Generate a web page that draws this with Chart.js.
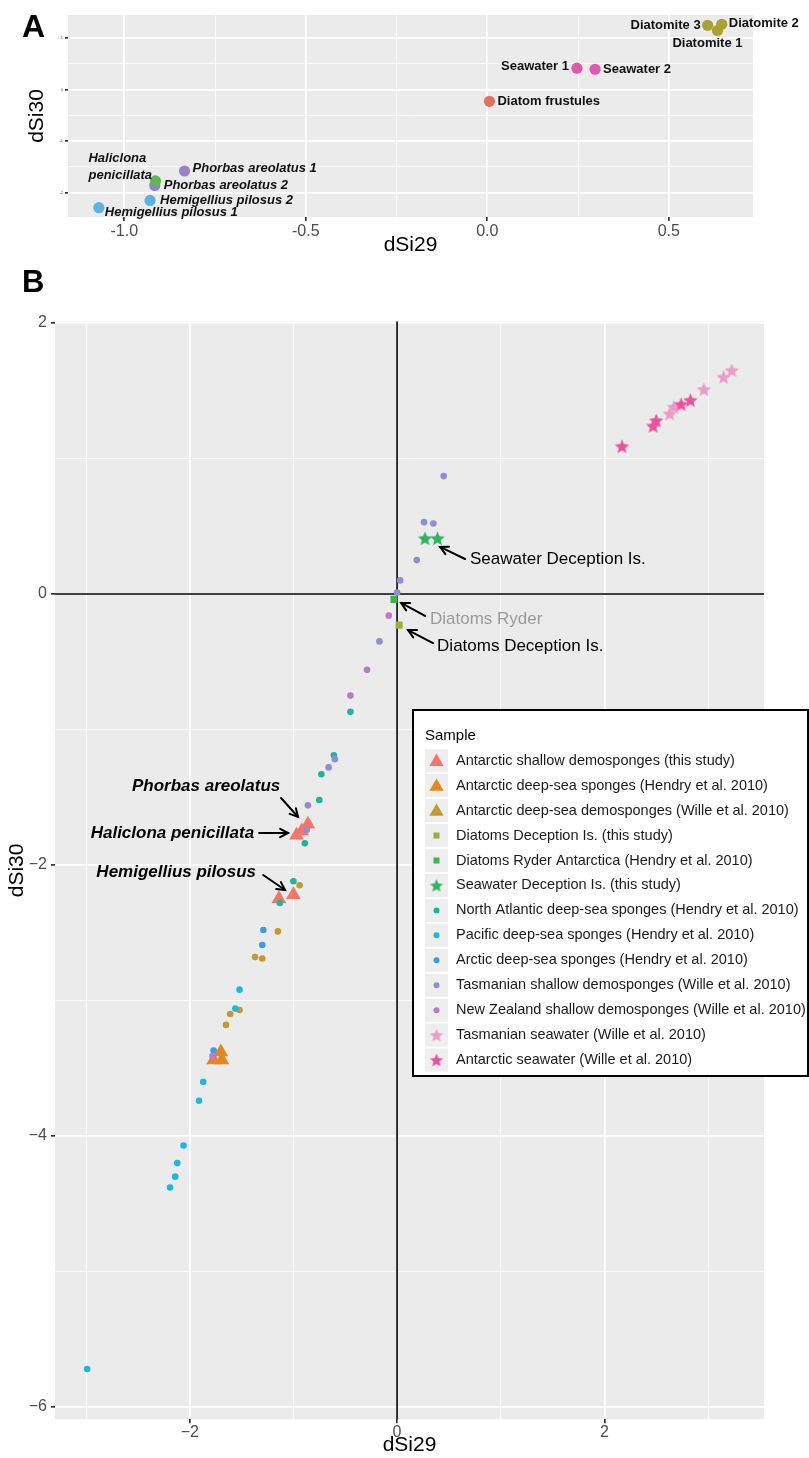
<!DOCTYPE html>
<html><head><meta charset="utf-8">
<script src="https://cdn.jsdelivr.net/npm/chart.js@4.4.1/dist/chart.umd.min.js"></script>
<style>
html,body{margin:0;padding:0;background:#fff;}
body{width:809px;height:1458px;position:relative;overflow:hidden;}
#ca{position:absolute;left:0;top:0;}
#cb{position:absolute;left:0;top:258px;}
</style></head><body>
<canvas id="ca" width="809" height="258"></canvas>
<canvas id="cb" width="809" height="1200"></canvas>
<script>
// ---------------- Panel A data ----------------
const aLabels = ["Diatom frustules","Diatomite 1","Diatomite 2","Diatomite 3","Seawater 1","Seawater 2","Haliclona\npenicillata","Phorbas areolatus 1","Phorbas areolatus 2","Hemigellius pilosus 1","Hemigellius pilosus 2"];
const aGroup = ["Diatom frustules","Diatomite","Diatomite","Diatomite","Seawater","Seawater","Haliclona","Phorbas","Phorbas","Hemigellius","Hemigellius"];
const aSi29 = [0.006, 0.634, 0.646, 0.607, 0.247, 0.297, -0.914, -0.834, -0.916, -1.070, -0.929];
const aSi30 = [-0.23, 1.14, 1.26, 1.24, 0.41, 0.39, -1.77, -1.58, -1.86, -2.29, -2.15];
const aGroupOrder = ["Diatom frustules","Diatomite","Seawater","Phorbas","Haliclona","Hemigellius"];

// ---------------- Panel B data ----------------
const bNames = [
  "Antarctic shallow demosponges (this study)",
  "Antarctic deep-sea sponges (Hendry et al. 2010)",
  "Antarctic deep-sea demosponges (Wille et al. 2010)",
  "Diatoms Deception Is. (this study)",
  "Diatoms Ryder Antarctica (Hendry et al. 2010)",
  "Seawater Deception Is. (this study)",
  "North Atlantic deep-sea sponges (Hendry et al. 2010)",
  "Pacific deep-sea sponges (Hendry et al. 2010)",
  "Arctic deep-sea sponges (Hendry et al. 2010)",
  "Tasmanian shallow demosponges (Wille et al. 2010)",
  "New Zealand shallow demosponges (Wille et al. 2010)",
  "Tasmanian seawater (Wille et al. 2010)",
  "Antarctic seawater (Wille et al. 2010)"
];
const antShallowSi29 = [-0.86, -0.92, -0.97, -1.00, -1.14];
const antShallowSi30 = [-1.70, -1.75, -1.78, -2.22, -2.25];
const antDeepHendrySi29 = [-1.70, -1.77, -1.69];
const antDeepHendrySi30 = [-3.38, -3.44, -3.44];
const antDeepWilleSi29 = [-0.94, -1.15, -1.37, -1.30, -1.52, -1.61, -1.65];
const antDeepWilleSi30 = [-2.15, -2.49, -2.68, -2.69, -3.07, -3.10, -3.18];
const diatDeceptionSi29 = [0.02];
const diatDeceptionSi30 = [-0.23];
const diatRyderSi29 = [-0.03];
const diatRyderSi30 = [-0.04];
const swDeceptionSi29 = [0.27, 0.39];
const swDeceptionSi30 = [0.41, 0.41];
const nAtlanticSi29 = [-0.45, -0.61, -0.73, -0.75, -0.89, -1.00, -1.13];
const nAtlanticSi30 = [-0.87, -1.19, -1.33, -1.52, -1.84, -2.12, -2.28];
const pacificSi29 = [-1.52, -1.56, -1.87, -1.91, -2.06, -2.12, -2.14, -2.19, -2.99];
const pacificSi30 = [-2.92, -3.06, -3.60, -3.74, -4.07, -4.20, -4.30, -4.38, -5.72];
const arcticSi29 = [-1.29, -1.30, -1.77];
const arcticSi30 = [-2.48, -2.59, -3.37];
const tasShallowSi29 = [0.45, 0.26, 0.35, 0.19, 0.03, 0.00, -0.17, -0.60, -0.66, -0.86, -0.87];
const tasShallowSi30 = [0.87, 0.53, 0.52, 0.25, 0.10, 0.01, -0.35, -1.22, -1.28, -1.56, -1.74];
const nzShallowSi29 = [-0.08, -0.29, -0.45, -1.78];
const nzShallowSi30 = [-0.16, -0.56, -0.75, -3.41];
const tasSeawaterSi29 = [2.63, 2.67, 2.96, 3.15, 3.23];
const tasSeawaterSi30 = [1.33, 1.38, 1.51, 1.60, 1.65];
const antSeawaterSi29 = [2.17, 2.47, 2.50, 2.74, 2.83];
const antSeawaterSi30 = [1.09, 1.24, 1.28, 1.40, 1.43];
const bX = [antShallowSi29, antDeepHendrySi29, antDeepWilleSi29, diatDeceptionSi29, diatRyderSi29, swDeceptionSi29, nAtlanticSi29, pacificSi29, arcticSi29, tasShallowSi29, nzShallowSi29, tasSeawaterSi29, antSeawaterSi29];
const bY = [antShallowSi30, antDeepHendrySi30, antDeepWilleSi30, diatDeceptionSi30, diatRyderSi30, swDeceptionSi30, nAtlanticSi30, pacificSi30, arcticSi30, tasShallowSi30, nzShallowSi30, tasSeawaterSi30, antSeawaterSi30];

// ---------------- styles ----------------
const FONT = '"Liberation Sans", Arial, Helvetica, sans-serif';
Chart.defaults.font.family = FONT;
Chart.defaults.animation = false;

const aColor = {"Diatom frustules":"#E8705F","Diatomite":"#A9A232","Seawater":"#DE5AAE","Phorbas":"#9B80C6","Haliclona":"#5EB852","Hemigellius":"#5AB4E2"};
const aLabelDx = [8, -10, 7, -7, -8, 8, -67, 8, 9, 6, 10];
const aLabelDy = [0, 13, -1, 0, -2, 0, -22, -3, 0, 5, 0];
const aLabelAlign = ['left','center','left','right','right','left','left','left','left','left','left'];
const aLabelItalic = [false,false,false,false,false,false,true,true,true,true,true];

function makeStar(color, size) {
  const c = document.createElement('canvas');
  c.width = size; c.height = size;
  const g = c.getContext('2d');
  const cx = size / 2, cy = size / 2 + 0.6, R = size / 2, r = R * 0.45;
  g.beginPath();
  for (let i = 0; i < 10; i++) {
    const ang = -Math.PI / 2 + i * Math.PI / 5;
    const rad = i % 2 ? r : R;
    g.lineTo(cx + rad * Math.cos(ang), cy + rad * Math.sin(ang));
  }
  g.closePath(); g.fillStyle = color; g.fill();
  return c;
}
const bColor = ["#F3766B","#E5871F","#C39A2E","#93B23A","#3DB54A","#2DB462","#1EB59B","#1DB8DF","#3E9CE0","#8B8FD5","#B97BC8","#EE9BC9","#EF509E"];
const bShape = ['triangle','triangle','circle','rect','rect','star','circle','circle','circle','circle','circle','star','star'];
const bLegendShape = ['triangle','triangle','triangle','rect','rect','star','circle','circle','circle','circle','circle','star','star'];
const bRadius = {triangle: 8.5, circle: 3.3, rect: 5};

const bAnnotations = [
  {text:'Seawater Deception Is.', italic:false, color:'#000', tx:0.704, ty:0.258, align:'left', from:[0.656,0.258], to:[0.415,0.347]},
  {text:'Diatoms Ryder', italic:false, color:'#9A9A9A', tx:0.318, ty:-0.185, align:'left', from:[0.270,-0.162], to:[0.039,-0.066]},
  {text:'Diatoms Deception Is.', italic:false, color:'#000', tx:0.386, ty:-0.384, align:'left', from:[0.347,-0.362], to:[0.106,-0.266]},
  {text:'Phorbas areolatus', italic:true, color:'#000', tx:-1.842, ty:-1.417, align:'center', from:[-1.119,-1.506], to:[-0.955,-1.646]},
  {text:'Haliclona penicillata', italic:true, color:'#000', tx:-1.379, ty:-1.764, align:'right', from:[-1.331,-1.764], to:[-1.051,-1.764]},
  {text:'Hemigellius pilosus', italic:true, color:'#000', tx:-2.131, ty:-2.052, align:'center', from:[-1.292,-2.074], to:[-1.080,-2.185]}
];

function near(v, step) { return Math.abs(v / step - Math.round(v / step)) < 1e-6; }

const panelBg = {
  id: 'panelBg',
  beforeDraw(chart) {
    const {ctx, chartArea: a} = chart;
    ctx.save(); ctx.fillStyle = '#EBEBEB';
    ctx.fillRect(a.left, a.top, a.right - a.left, a.bottom - a.top);
    ctx.restore();
  }
};

function drawArrow(ctx, x1, y1, x2, y2) {
  ctx.beginPath(); ctx.moveTo(x1, y1); ctx.lineTo(x2, y2); ctx.stroke();
  const a = Math.atan2(y2 - y1, x2 - x1), L = 9, w = Math.PI / 6.5;
  ctx.beginPath();
  ctx.moveTo(x2 - L * Math.cos(a - w), y2 - L * Math.sin(a - w));
  ctx.lineTo(x2, y2);
  ctx.lineTo(x2 - L * Math.cos(a + w), y2 - L * Math.sin(a + w));
  ctx.stroke();
}

function drawShape(ctx, shape, color, x, y, s) {
  ctx.fillStyle = color;
  ctx.beginPath();
  if (shape === 'triangle') {
    ctx.moveTo(x, y - s * 0.55); ctx.lineTo(x + s * 0.55, y + s * 0.4); ctx.lineTo(x - s * 0.55, y + s * 0.4); ctx.closePath(); ctx.fill();
  } else if (shape === 'rect') {
    ctx.fillRect(x - s / 2, y - s / 2, s, s);
  } else if (shape === 'circle') {
    ctx.arc(x, y, s / 2, 0, Math.PI * 2); ctx.fill();
  } else if (shape === 'star') {
    const img = makeStar(color, s);
    ctx.drawImage(img, x - s / 2, y - s / 2);
  }
}

// ---------------- Chart A ----------------
const aDatasets = aGroupOrder.map((g, i) => ({
  label: g,
  data: aSi29.map((x, k) => ({x: x, y: aSi30[k], k: k})).filter(p => aGroup[p.k] === g),
  backgroundColor: aColor[g],
  borderWidth: 0,
  pointRadius: 5.6,
  pointHoverRadius: 5.6,
  order: -i
}));

const aLabelPlugin = {
  id: 'aLabels',
  afterDatasetsDraw(chart) {
    const ctx = chart.ctx, xs = chart.scales.x, ys = chart.scales.y;
    ctx.save();
    ctx.fillStyle = '#111';
    ctx.textBaseline = 'middle';
    for (let k = 0; k < aLabels.length; k++) {
      const px = xs.getPixelForValue(aSi29[k]), py = ys.getPixelForValue(aSi30[k]);
      ctx.font = (aLabelItalic[k] ? 'italic ' : '') + 'bold 13px ' + FONT;
      ctx.textAlign = aLabelAlign[k];
      const lines = aLabels[k].split('\n');
      lines.forEach((t, j) => ctx.fillText(t, px + aLabelDx[k], py + aLabelDy[k] + j * 17));
    }
    ctx.font = 'bold 32px ' + FONT;
    ctx.textAlign = 'left'; ctx.textBaseline = 'alphabetic'; ctx.fillStyle = '#000';
    ctx.fillText('A', 22, 37);
    ctx.restore();
  }
};

new Chart(document.getElementById('ca'), {
  type: 'scatter',
  data: {datasets: aDatasets},
  options: {
    responsive: false, devicePixelRatio: 1,
    layout: {padding: {left: 0, right: 56, top: 15, bottom: 0}},
    plugins: {legend: {display: false}, tooltip: {enabled: false}},
    scales: {
      x: {
        type: 'linear', min: -1.155, max: 0.732,
        afterFit: s => { s.height = 41; },
        ticks: {stepSize: 0.25, includeBounds: false, autoSkip: false, maxRotation: 0, padding: 1, color: '#4D4D4D', font: {size: 16},
          callback: v => near(v, 0.5) ? v.toFixed(1) : ''},
        grid: {color: '#FFFFFF', lineWidth: c => (c.tick && near(c.tick.value, 0.5)) ? 1.7 : 0.8, tickLength: 4,
          tickColor: c => (c.tick && near(c.tick.value, 0.5)) ? '#333333' : 'rgba(0,0,0,0)'},
        border: {display: false},
        title: {display: true, text: 'dSi29', color: '#000', font: {size: 21}, padding: {top: 0, bottom: 0}}
      },
      y: {
        type: 'linear', min: -2.47, max: 1.44,
        afterFit: s => { s.width = 68; },
        ticks: {stepSize: 0.5, includeBounds: false, autoSkip: false, padding: 2, color: '#4D4D4D', font: {size: 4},
          callback: v => near(v, 1) ? String(Math.round(v)) : ''},
        grid: {color: '#FFFFFF', lineWidth: c => (c.tick && near(c.tick.value, 1)) ? 1.7 : 0.8, tickLength: 3,
          tickColor: c => (c.tick && near(c.tick.value, 1)) ? '#333333' : 'rgba(0,0,0,0)'},
        border: {display: false},
        title: {display: true, text: 'dSi30', color: '#000', font: {size: 21}, padding: {top: 25, bottom: 0}}
      }
    }
  },
  plugins: [panelBg, aLabelPlugin]
});

// ---------------- Chart B ----------------
const starCache = {};
const bDatasets = bNames.map((name, i) => {
  const shape = bShape[i];
  let ps = shape;
  if (shape === 'star') ps = makeStar(bColor[i], 15);
  return {
    label: name,
    data: bX[i].map((x, k) => ({x: x, y: bY[i][k]})),
    backgroundColor: bColor[i],
    borderColor: bColor[i],
    borderWidth: 0,
    pointStyle: ps,
    pointRadius: shape === 'star' ? 7.5 : bRadius[shape],
    pointHoverRadius: shape === 'star' ? 7.5 : bRadius[shape],
    order: -i
  };
});

const zeroLines = {
  id: 'zeroLines',
  beforeDatasetsDraw(chart) {
    const {ctx, chartArea: a} = chart, xs = chart.scales.x, ys = chart.scales.y;
    const x0 = xs.getPixelForValue(0), y0 = ys.getPixelForValue(0);
    ctx.save(); ctx.strokeStyle = '#000'; ctx.lineWidth = 1.6;
    ctx.beginPath(); ctx.moveTo(x0, a.top); ctx.lineTo(x0, a.bottom); ctx.stroke();
    ctx.beginPath(); ctx.moveTo(a.left, y0); ctx.lineTo(a.right, y0); ctx.stroke();
    ctx.restore();
  }
};

const bOverlay = {
  id: 'bOverlay',
  afterDraw(chart) {
    const ctx = chart.ctx, xs = chart.scales.x, ys = chart.scales.y;
    ctx.save();
    // annotations
    ctx.lineWidth = 2; ctx.strokeStyle = '#000'; ctx.lineCap = 'round'; ctx.lineJoin = 'miter';
    bAnnotations.forEach(an => {
      drawArrow(ctx, xs.getPixelForValue(an.from[0]), ys.getPixelForValue(an.from[1]),
        xs.getPixelForValue(an.to[0]), ys.getPixelForValue(an.to[1]));
      ctx.font = (an.italic ? 'italic bold ' : '') + '17px ' + FONT;
      ctx.fillStyle = an.color; ctx.textAlign = an.align; ctx.textBaseline = 'middle';
      ctx.fillText(an.text, xs.getPixelForValue(an.tx), ys.getPixelForValue(an.ty));
    });
    // legend
    const Lx = 413, Ly = 452, Lw = 395, Lh = 366;
    ctx.fillStyle = '#FFFFFF'; ctx.fillRect(Lx, Ly, Lw, Lh);
    ctx.lineWidth = 2; ctx.strokeStyle = '#000'; ctx.strokeRect(Lx, Ly, Lw, Lh);
    ctx.fillStyle = '#000'; ctx.font = '15px ' + FONT; ctx.textAlign = 'left'; ctx.textBaseline = 'middle';
    ctx.fillText('Sample', 425, 477.7);
    const row0 = 502.7, step = 24.95;
    bNames.forEach((name, i) => {
      const cy = row0 + i * step;
      ctx.fillStyle = '#EEEEEE'; ctx.fillRect(425, cy - 11.5, 23, 23);
      const ls = bLegendShape[i];
      const sz = ls === 'triangle' ? 13 : ls === 'star' ? 14 : ls === 'rect' ? 6 : 6;
      drawShape(ctx, ls, bColor[i], 436.5, cy, sz);
      ctx.fillStyle = '#1A1A1A'; ctx.font = '14.5px ' + FONT; ctx.textAlign = 'left'; ctx.textBaseline = 'middle';
      ctx.fillText(name, 456, cy);
    });
    // panel letter
    ctx.font = 'bold 31px ' + FONT; ctx.fillStyle = '#000'; ctx.textBaseline = 'alphabetic';
    ctx.fillText('B', 22, 34);
    ctx.restore();
  }
};

const fmtMinus = v => (v < 0 ? '\u2212' : '') + Math.abs(Math.round(v));

new Chart(document.getElementById('cb'), {
  type: 'scatter',
  data: {datasets: bDatasets},
  options: {
    responsive: false, devicePixelRatio: 1,
    layout: {padding: {left: 0, right: 45, top: 63.6, bottom: 0}},
    plugins: {legend: {display: false}, tooltip: {enabled: false}},
    scales: {
      x: {
        type: 'linear', min: -3.30, max: 3.54,
        afterFit: s => { s.height = 38.8; },
        ticks: {stepSize: 1, includeBounds: false, autoSkip: false, maxRotation: 0, padding: 0, color: '#4D4D4D', font: {size: 16},
          callback: v => near(v, 2) ? fmtMinus(v) : ''},
        grid: {color: '#FFFFFF', lineWidth: c => (c.tick && near(c.tick.value, 2)) ? 1.7 : 0.8, tickLength: 4,
          tickColor: c => (c.tick && near(c.tick.value, 2)) ? '#333333' : 'rgba(0,0,0,0)'},
        border: {display: false},
        title: {display: true, text: 'dSi29', color: '#000', font: {size: 21}, padding: {top: 0, bottom: 0}}
      },
      y: {
        type: 'linear', min: -6.09, max: 2.01,
        afterFit: s => { s.width = 55; },
        ticks: {stepSize: 1, includeBounds: false, autoSkip: false, padding: 4, color: '#4D4D4D', font: {size: 16},
          callback: v => near(v, 2) ? fmtMinus(v) : ''},
        grid: {color: '#FFFFFF', lineWidth: c => (c.tick && near(c.tick.value, 2)) ? 1.7 : 0.8, tickLength: 4,
          tickColor: c => (c.tick && near(c.tick.value, 2)) ? '#333333' : 'rgba(0,0,0,0)'},
        border: {display: false},
        title: {display: true, text: 'dSi30', color: '#000', font: {size: 21}, padding: {top: 5, bottom: 0}}
      }
    }
  },
  plugins: [panelBg, zeroLines, bOverlay]
});
</script>
</body></html>
